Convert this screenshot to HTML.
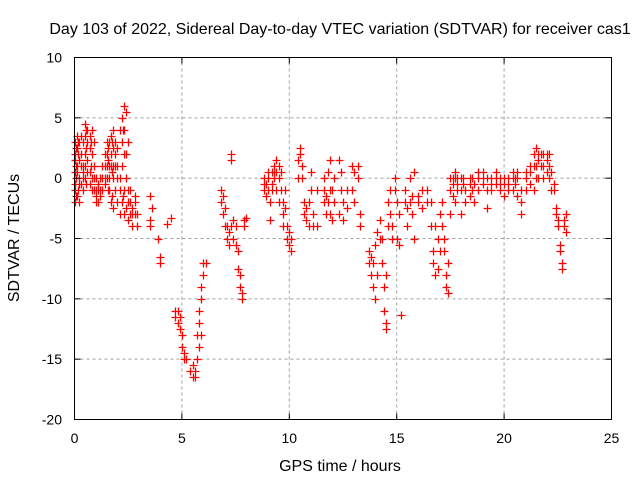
<!DOCTYPE html>
<html><head><meta charset="utf-8"><style>
body{margin:0;background:#fff;}
svg{display:block;font-family:"Liberation Sans",sans-serif;}
</style></head><body>
<svg id="chart" width="640" height="480" viewBox="0 0 640 480">
<rect width="640" height="480" fill="#fff"/>
<text x="340" y="34" font-size="16" text-anchor="middle">Day 103 of 2022, Sidereal Day-to-day VTEC variation (SDTVAR) for receiver cas1</text>
<g id="grid"></g>
<g id="points"></g>
<rect x="74.5" y="57.5" width="537" height="362" fill="none" stroke="#000"/>
<g id="ticks"></g>
<text x="340" y="471" font-size="16" text-anchor="middle">GPS time / hours</text>
<text transform="translate(19,238) rotate(-90)" font-size="16" text-anchor="middle">SDTVAR / TECUs</text>
</svg>
<script>
const xTicks=[0,5,10,15,20,25];
const yTicks=[10,5,0,-5,-10,-15,-20];
const hours=[0,0.05,0.1,0.15,0.2,0.3,0.4,0.5,0.55,0.6,0.7,0.75,0.8,0.9,1.0,1.1,1.2,1.3,1.4,1.5,1.55,1.6,1.7,1.75,1.8,1.9,2.0,2.1,2.2,2.25,2.3,2.4,2.5,2.6,2.7,2.8,2.9,3.5,3.6,3.9,4.0,4.3,4.5,4.7,4.8,4.9,5.0,5.1,5.2,5.4,5.5,5.6,5.7,5.8,5.9,6.0,6.1,6.8,6.9,7.0,7.1,7.2,7.3,7.4,7.5,7.6,7.7,7.8,7.9,8.0,8.8,8.9,9.0,9.1,9.2,9.3,9.4,9.5,9.6,9.7,9.8,9.9,10.0,10.1,10.4,10.5,10.6,10.7,10.8,10.9,11.0,11.1,11.3,11.6,11.7,11.8,11.9,12.0,12.1,12.3,12.4,12.5,12.7,12.9,13.0,13.2,13.3,13.7,13.8,13.9,14.0,14.1,14.2,14.3,14.4,14.5,14.6,14.7,14.8,14.9,15.0,15.1,15.2,15.4,15.5,15.6,15.7,15.8,16.0,16.2,16.4,16.6,16.7,16.8,16.9,17.0,17.1,17.2,17.3,17.4,17.5,17.6,17.7,17.8,18.0,18.1,18.2,18.4,18.5,18.6,18.8,19.0,19.2,19.4,19.6,19.8,20.0,20.2,20.4,20.5,20.6,20.8,21.0,21.2,21.4,21.5,21.6,21.7,21.8,22.0,22.1,22.2,22.3,22.4,22.5,22.6,22.7,22.8,22.9];
const sdtvar=[[2,-1,0.5,-2,3,1.5,-0.5],[2.5,0,-1.5,1],[3.5,1,-1.5,2.5,0.5],[2,-1,3],[3,0,-2,1.5,-0.5],[3.5,-0.5,2,1],[0,1,3,-1,0.5],[4.5,2,0,3.5,1],[4,2.5,-0.5],[4,3,0.5,1.5],[3.5,2.5,-0.5,0.5],[3,1],[4,2,0,-1],[3,1,-1,0],[-1,0,-2,-1.5],[-2,-1,-0.5],[-1.5,0,-1],[0,-1,1],[1,-0.5,2,0],[2,3,0,1],[2.5,1.5,-1],[3,1,-1,0],[3.5,2,-2,1],[3,0.5,-1.5],[4,2.5,0,-2.5,1],[3,1,-1,2],[2.5,0,-2,1],[4,-1,-3,0],[5,3,-2,1],[4,-1.5],[6,4,-1,-3,2],[5.5,2,-2.5,0],[3,-1,-3.5,-2],[-2,-3,-1],[-3,-2.5,-4],[-2,-3,-1.5],[-3,-4],[-1.5,-3.5,-4],[-2.5],[-5],[-6.5,-7],[-3.8],[-3.3],[-11,-11.5],[-11,-12],[-12.5,-11.5],[-13,-14],[-14.5,-15],[-15],[-16],[-16.5,-15.5],[-16.5,-16],[-15,-13],[-12,-11,-14],[-10,-9,-13],[-8,-7],[-7],[-1,-2],[-1.5,-3],[-2.5,-4],[-4,-5],[-5.5,-4.5],[1.5,2,-4],[-3.5,-5],[-4,-5.5],[-6,-7.5],[-8,-9],[-9.5,-10],[-3.5,-4],[-3.3],[-1,0,-0.5],[-0.5,-1.5],[0,-1,0.5],[-2,-3.5],[-0.5,0.5,-1],[1,0,0.5],[1.5,0.5,-1],[0,1,-2],[-1,0.5],[-2,-3,-4],[-1,-2.5],[-4,-5],[-5.5,-4.5],[-6,-5],[0,1.5],[2.5,2],[0,1],[-2,-3],[-3.5,-2.5],[-4,-2],[0.5,-1],[-3,-4],[-1,-4],[-1,0,-2],[-1.5,-3],[0.5,-2],[1.5,-1,-3],[-3.5,-1],[0,-2],[1.5,-3],[0.5,-1],[-2,-3.5],[-2.5,-1],[1,-1],[0.5,-2],[0,1],[-3,-4],[-6,-7],[-6.5,-8],[-7,-9],[-5.5,-10],[-4.5,-8],[-3.5,-5],[-5,-7],[-9,-11],[-12,-12.5,-8],[-4,-2],[-1,-3],[-4,-5],[0,-1],[-5,-2],[-3,-5.5],[-11.3],[-1,-2],[-2.5,-4],[0,-2],[-1.5,-3],[0.5,-5],[-1.5,-2],[-1,-2.5],[-2,-1],[-4,-2],[-6,-7],[-4,-8],[-5,-7.5],[-3,-6],[-4,-2],[-5,-6],[-8,-9],[-7,-9.5],[-1,-3,0],[0,-1.5,-0.5],[0.5,-2,0],[-1,-0.5,0],[0,-3,-1],[-0.5,0],[-1,-2],[0,-1.5,-0.5],[-1,0],[-0.5,-2],[0,-1,0.5],[-0.5,0.5,0],[-1,-2.5,0],[0,-1,-0.5],[0.5,-0.5,0],[-0.5,0,-1],[0,-1.5,-0.5],[-0.5,-1,0],[0,-1,0.5],[-0.5,0],[0.5,-1.5,0],[-3,-2,-1],[0,-1,0.5],[1,0.5,-0.5],[2,-1,1],[2.5,1,0],[1.5,0,2],[2,1],[2,1,0],[1.5,0.5,2],[2,1,0],[0.5,-1],[-1,-0.5],[-2.5,-3],[-4,-3.5],[-5.5,-6],[-7,-7.5],[-4,-3.5],[-4.5,-3]];

const X0=74.5,X1=611.5,Y0=419.5,Y1=57.5;
function xs(t){return X0+(t-0)/(25-0)*(X1-X0);}
function ys(v){return Y0-(v+20)/(30)*(Y0-Y1);}
const NS='http://www.w3.org/2000/svg';
const grid=document.getElementById('grid'),ticks=document.getElementById('ticks'),pts=document.getElementById('points');
function mk(tag,attrs,parent){const e=document.createElementNS(NS,tag);for(const k in attrs)e.setAttribute(k,attrs[k]);parent.appendChild(e);return e;}
xTicks.forEach(t=>{
  const x=xs(t);
  if(t>0&&t<25){const g=mk('line',{x1:x,x2:x,y1:Y0,y2:Y1,stroke:'#a0a0a0','stroke-dasharray':'3,3'},grid);
  
  }
  mk('line',{x1:x,x2:x,y1:Y0,y2:Y0-6,stroke:'#000'},ticks);
  mk('line',{x1:x,x2:x,y1:Y1,y2:Y1+6,stroke:'#000'},ticks);
  const l=mk('text',{x:x,y:443,'font-size':14,'text-anchor':'middle'},ticks);
  l.textContent=t;
  
  
});
yTicks.forEach(v=>{
  const y=ys(v);
  if(v>-20&&v<10){const g=mk('line',{x1:X0,x2:X1,y1:y,y2:y,stroke:'#a0a0a0','stroke-dasharray':'3,3'},grid);
  
  }
  mk('line',{x1:X0,x2:X0+6,y1:y,y2:y,stroke:'#000'},ticks);
  mk('line',{x1:X1,x2:X1-6,y1:y,y2:y,stroke:'#000'},ticks);
  const l=mk('text',{x:62,y:y+5,'font-size':14,'text-anchor':'end'},ticks);
  l.textContent=v;
  
  
});
let d='';
hours.forEach((t,i)=>{
  sdtvar[i].forEach(v=>{
    const x=Math.round(xs(t))+0.5,y=Math.round(ys(v))+0.5;
    d+='M'+(x-4)+' '+y+'h8M'+x+' '+(y-4)+'v8';
  });
});
const p=mk('path',{d:d,stroke:'#ff0000','stroke-width':1.3,fill:'none'},pts);


</script>
</body></html>
